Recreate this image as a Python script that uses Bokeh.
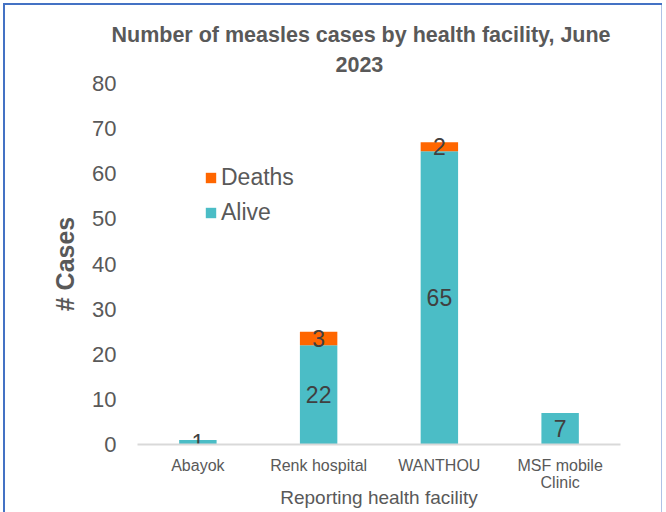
from bokeh.plotting import figure
from bokeh.models import (ColumnDataSource, FactorRange, Range1d, Legend, LegendItem,
                          FixedTicker, Title)
from bokeh.core.properties import value
from bokeh.embed import file_html
from bokeh.resources import INLINE

# ---- data ----
facilities = ["Abayok", "Renk hospital", "WANTHOU", "MSF mobile\nClinic"]
alive = [1, 22, 65, 7]
deaths = [0, 3, 2, 0]
y_ticks = [0, 10, 20, 30, 40, 50, 60, 70, 80]
title_line1 = "Number of measles cases by health facility, June"
title_line2 = "2023"

TEAL = "#4BBDC6"
ORANGE = "#FF6600"
GREY = "#595959"
FONT = "Liberation Sans"

src = ColumnDataSource(dict(fac=facilities, Alive=alive, Deaths=deaths))

alive_lab = ColumnDataSource(dict(
    fac=facilities,
    y=[a / 2 for a in alive],
    t=[str(a) for a in alive]))
d_idx = [i for i, d in enumerate(deaths) if d > 0]
death_lab = ColumnDataSource(dict(
    fac=[facilities[i] for i in d_idx],
    y=[alive[i] + deaths[i] / 2 for i in d_idx],
    t=[str(deaths[i]) for i in d_idx]))

p = figure(x_range=FactorRange(*facilities, range_padding=0), y_range=Range1d(0, 80),
           width=666, height=512, output_backend="svg", toolbar_location=None,
           title_location=None,
           min_border_left=137, min_border_right=46, min_border_top=83, min_border_bottom=68)
p.outline_line_color = None
p.border_fill_color = None
p.xgrid.visible = False
p.ygrid.visible = False
p.styles = {
    "background-color": "white",
    "box-shadow": ("inset 3px 3px 0 0 white, inset -4px 0 0 0 white, "
                   "inset 5px 5px 0 0 #4472C4, inset -5px 0 0 0 #AFC2E6"),
}

rs = p.vbar_stack(["Alive", "Deaths"], x="fac", width=0.31, color=[TEAL, ORANGE],
                  line_color=None, source=src)

for s in (alive_lab, death_lab):
    p.text(x="fac", y="y", text="t", source=s, text_align="center", text_baseline="middle",
           text_font_size="23px", text_color="#404040", text_font=value(FONT))

legend = Legend(items=[LegendItem(label="Deaths", renderers=[rs[1]]),
                       LegendItem(label="Alive", renderers=[rs[0]])],
                location=(67, 218), padding=0, margin=0, spacing=8,
                glyph_width=13, glyph_height=13, label_height=25, label_standoff=4,
                label_text_font_size="23px", label_text_color=GREY, label_text_font=FONT,
                border_line_color=None, background_fill_alpha=0)
p.add_layout(legend)

for txt, so, off in ((title_line2, 23, 198), (title_line1, -6, -26)):
    p.add_layout(Title(text=txt, align="left", offset=off, standoff=so,
                       text_font=FONT, text_font_size="21.5px", text_font_style="bold",
                       text_color=GREY), "above")

ya = p.yaxis[0]
ya.ticker = FixedTicker(ticks=y_ticks)
ya.axis_line_color = None
ya.major_tick_line_color = None
ya.minor_tick_line_color = None
ya.major_label_text_font = FONT
ya.major_label_text_font_size = "22px"
ya.major_label_text_color = GREY
ya.major_label_standoff = 15
ya.axis_label = "# Cases"
ya.axis_label_text_font = FONT
ya.axis_label_text_font_size = "25px"
ya.axis_label_text_font_style = "bold"
ya.axis_label_text_color = GREY
ya.axis_label_standoff = 10

xa = p.xaxis[0]
xa.axis_line_color = "#D9D9D9"
xa.axis_line_width = 2
xa.major_tick_line_color = None
xa.minor_tick_line_color = None
xa.major_label_text_font = FONT
xa.major_label_text_font_size = "16px"
xa.major_label_text_line_height = 1.05
xa.major_label_text_color = GREY
xa.major_label_standoff = 6
xa.axis_label = "Reporting health facility"
xa.axis_label_text_font = FONT
xa.axis_label_text_font_size = "19px"
xa.axis_label_text_font_style = "normal"
xa.axis_label_text_color = GREY
xa.axis_label_standoff = -7

open("out.html", "w").write(file_html(p, INLINE))
